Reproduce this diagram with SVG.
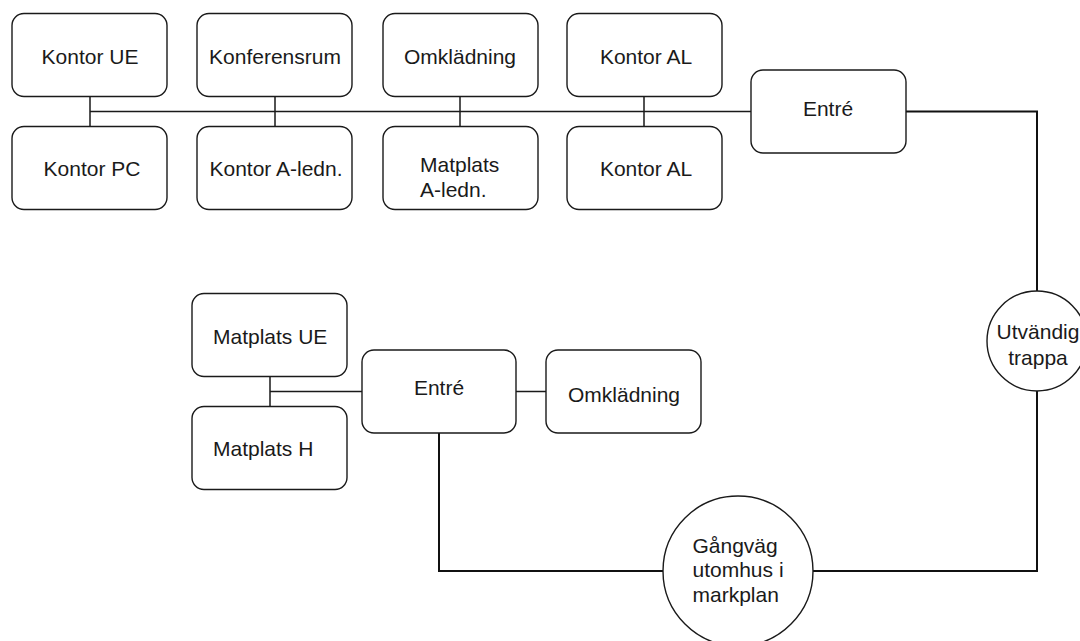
<svg xmlns="http://www.w3.org/2000/svg" width="1080" height="641" viewBox="0 0 1080 641">
  <style>
    .box { fill: #ffffff; stroke: #1a1a1a; stroke-width: 1.4; }
    .room text, .node text { font-family: "Liberation Sans", Arial, sans-serif; font-size: 21px; fill: #1a1a1a; }
    .c { text-anchor: middle; }
    .wire { fill: none; stroke: #1a1a1a; stroke-width: 1.5; }
    .route { fill: none; stroke: #111111; stroke-width: 2; }
  </style>
  <rect width="1080" height="641" fill="#ffffff"/>

  <!-- connectors -->
  <g id="connectors">
    <path class="wire" d="M90 111.5 H751 M90 96.5 V126.5 M275 96.5 V126.5 M460 96.5 V126.5 M644 96.5 V126.5"/>
    <path class="wire" d="M270 376.5 V406.5 M270 391.5 H362 M516 391.5 H546"/>
    <path class="route" d="M906 111.5 H1037 V291 M1037 391 V571 H813 M663 571 H439 V433"/>
  </g>

  <!-- upper floor -->
  <g id="kontor-ue" class="room">
    <rect class="box" x="12" y="13.5" width="155" height="83" rx="12"/>
    <text class="c" x="90" y="64">Kontor UE</text>
  </g>
  <g id="kontor-pc" class="room">
    <rect class="box" x="12" y="126.5" width="155" height="83" rx="12"/>
    <text class="c" x="92" y="176">Kontor PC</text>
  </g>
  <g id="konferensrum" class="room">
    <rect class="box" x="197" y="13.5" width="155" height="83" rx="12"/>
    <text class="c" x="275" y="64">Konferensrum</text>
  </g>
  <g id="kontor-aledn" class="room">
    <rect class="box" x="197" y="126.5" width="155" height="83" rx="12"/>
    <text class="c" x="276" y="176">Kontor A-ledn.</text>
  </g>
  <g id="omkladning-1" class="room">
    <rect class="box" x="383" y="13.5" width="155" height="83" rx="12"/>
    <text class="c" x="460" y="64">Omklädning</text>
  </g>
  <g id="matplats-aledn" class="room">
    <rect class="box" x="383" y="126.5" width="155" height="83" rx="12"/>
    <text x="420" y="172">Matplats</text>
    <text x="420" y="197">A-ledn.</text>
  </g>
  <g id="kontor-al-1" class="room">
    <rect class="box" x="567" y="13.5" width="155" height="83" rx="12"/>
    <text class="c" x="646" y="63.5">Kontor AL</text>
  </g>
  <g id="kontor-al-2" class="room">
    <rect class="box" x="567" y="126.5" width="155" height="83" rx="12"/>
    <text class="c" x="646" y="176">Kontor AL</text>
  </g>
  <g id="entre-1" class="room">
    <rect class="box" x="751" y="70" width="155" height="83" rx="12"/>
    <text class="c" x="828" y="115.5">Entré</text>
  </g>

  <!-- lower floor -->
  <g id="matplats-ue" class="room">
    <rect class="box" x="192" y="293.5" width="155" height="83" rx="12"/>
    <text x="213" y="343.5">Matplats UE</text>
  </g>
  <g id="matplats-h" class="room">
    <rect class="box" x="192" y="406.5" width="155" height="83" rx="12"/>
    <text x="213" y="456">Matplats H</text>
  </g>
  <g id="entre-2" class="room">
    <rect class="box" x="362" y="350" width="154" height="83" rx="12"/>
    <text class="c" x="439" y="395">Entré</text>
  </g>
  <g id="omkladning-2" class="room">
    <rect class="box" x="546" y="350" width="155" height="83" rx="12"/>
    <text class="c" x="624" y="401.5">Omklädning</text>
  </g>

  <!-- outdoor route -->
  <g id="utvandig-trappa" class="node">
    <circle class="box" cx="1037" cy="341" r="50"/>
    <text class="c" x="1038" y="339">Utvändig</text>
    <text class="c" x="1038" y="365">trappa</text>
  </g>
  <g id="gangvag" class="node">
    <circle class="box" cx="738" cy="571" r="75"/>
    <text x="692.5" y="552.5">Gångväg</text>
    <text x="692.5" y="576.5">utomhus i</text>
    <text x="692.5" y="601.5">markplan</text>
  </g>
</svg>
